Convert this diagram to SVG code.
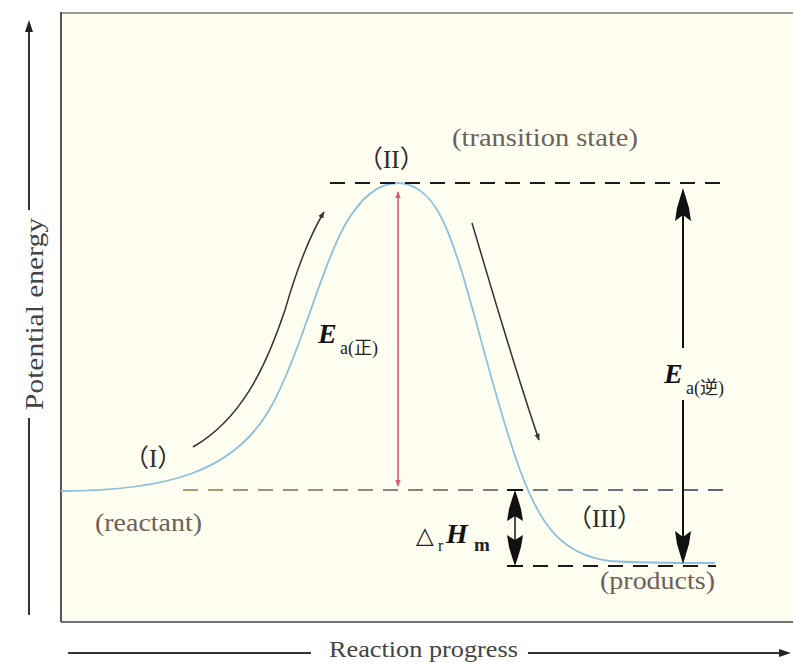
<svg xmlns="http://www.w3.org/2000/svg" width="793" height="665" viewBox="0 0 793 665">
<defs>
<style>
.lbl{font-family:"Liberation Serif","Noto Sans CJK SC",serif;fill:#6b6258;font-size:25px}
.num{font-family:"Liberation Serif","Noto Sans CJK SC",serif;fill:#2a2a2a;font-size:25px}
.ax{font-family:"Liberation Serif",serif;fill:#444;font-size:25px}
.E{font-family:"Liberation Serif",serif;font-style:italic;font-weight:bold;fill:#111;font-size:28px}
.sub{font-family:"Liberation Serif","Noto Sans CJK SC",serif;fill:#222;font-size:18px}
.dash{stroke:#1a1a1a;stroke-width:2;stroke-dasharray:15 10;fill:none}
.thin{stroke:#333;stroke-width:1.5;fill:none}
.heavy{fill:#111}
</style>
<marker id="ah" viewBox="0 0 10 10" refX="9" refY="5" markerWidth="7" markerHeight="7" orient="auto" markerUnits="userSpaceOnUse">
<path d="M0,1 L10,5 L0,9 Z" fill="#333"/>
</marker>
<marker id="ahr" viewBox="0 0 10 10" refX="9" refY="5" markerWidth="7" markerHeight="7" orient="auto-start-reverse" markerUnits="userSpaceOnUse">
<path d="M0,1 L10,5 L0,9 Z" fill="#e0557a"/>
</marker>
<linearGradient id="mid" gradientUnits="userSpaceOnUse" x1="183" y1="0" x2="728" y2="0">
<stop offset="0" stop-color="#b09a70"/>
<stop offset="1" stop-color="#5e6488"/>
</linearGradient>
</defs>
<rect x="0" y="0" width="793" height="665" fill="#ffffff"/>
<g id="frame">
<rect x="61" y="13" width="740" height="609" fill="#fffef1"/>
<line x1="61" y1="13" x2="793" y2="13" stroke="#9a9a98" stroke-width="2"/>
<line x1="61" y1="12" x2="61" y2="622" stroke="#555" stroke-width="2"/>
<line x1="61" y1="622" x2="793" y2="622" stroke="#6a7078" stroke-width="2"/>
</g>
<g id="y-axis">
<line x1="29" y1="30" x2="29" y2="210" stroke="#333" stroke-width="2"/>
<path d="M29,20 L33,32 L25,32 Z" fill="#222"/>
<line x1="29" y1="418" x2="29" y2="615" stroke="#333" stroke-width="2"/>
<text class="ax" transform="translate(43,314) rotate(-90)" text-anchor="middle" textLength="192" lengthAdjust="spacingAndGlyphs">Potential energy</text>
</g>
<g id="x-axis">
<line x1="68" y1="653" x2="311" y2="653" stroke="#333" stroke-width="2"/>
<line x1="528" y1="653" x2="782" y2="653" stroke="#333" stroke-width="2"/>
<path d="M791,653 L779,649 L779,657 Z" fill="#222"/>
<text class="ax" x="329" y="657" style="font-size:23px" textLength="189" lengthAdjust="spacingAndGlyphs">Reaction progress</text>
</g>
<g id="curve">
<path d="M61,491 C170,491 233,470 268,412 C298,362 320,270 345,225 C365,190 385,183 398,183 C412,183 428,192 440,215 C465,260 490,390 520,470 C540,525 562,555 610,561 C640,563 690,563 715,563" fill="none" stroke="#8cc0dc" stroke-width="1.8"/>
</g>
<g id="connectors">
<line class="dash" x1="330" y1="183" x2="730" y2="183"/>
<line x1="183" y1="490" x2="730" y2="490" stroke="url(#mid)" stroke-width="2" stroke-dasharray="15 10"/>
<line class="dash" x1="508" y1="566" x2="716" y2="566"/>
<path class="thin" d="M193,447 C240,420 265,370 285,310 C298,265 310,235 324,212" marker-end="url(#ah)"/>
<path class="thin" d="M472,223 C495,300 515,370 539,440" marker-end="url(#ah)"/>
<line x1="398" y1="192" x2="398" y2="486" stroke="#e0557a" stroke-width="1.6" marker-start="url(#ahr)" marker-end="url(#ahr)"/>
<line x1="683" y1="212" x2="683" y2="348" stroke="#111" stroke-width="2"/>
<line x1="683" y1="400" x2="683" y2="540" stroke="#111" stroke-width="2"/>
<path class="heavy" d="M683,188 L686,198 L689,208 L691,221 L683,215 L675,221 L677,208 L680,198 Z"/>
<path class="heavy" d="M683,564 L686,554 L689,544 L691,531 L683,537 L675,531 L677,544 L680,554 Z"/>
<line x1="507" y1="490" x2="523" y2="490" stroke="#111" stroke-width="2"/>
<line x1="507" y1="566" x2="523" y2="566" stroke="#111" stroke-width="2"/>
<line x1="515" y1="515" x2="515" y2="540" stroke="#111" stroke-width="1.5"/>
<path class="heavy" d="M515,490 L518,499 L521,509 L523,521 L515,516 L507,521 L509,509 L512,499 Z"/>
<path class="heavy" d="M515,566 L518,557 L521,547 L523,535 L515,540 L507,535 L509,547 L512,557 Z"/>
</g>
<g id="state-I">
<text class="num" x="124" y="467">（I）</text>
<text class="lbl" x="95" y="531" textLength="107" lengthAdjust="spacingAndGlyphs">(reactant)</text>
</g>
<g id="state-II">
<text class="num" x="358" y="168">（II）</text>
<text class="lbl" x="452" y="146" textLength="186" lengthAdjust="spacingAndGlyphs">(transition state)</text>
</g>
<g id="state-III">
<text class="num" x="567" y="527">（III）</text>
<text class="lbl" x="600" y="589" textLength="115" lengthAdjust="spacingAndGlyphs">(products)</text>
</g>
<g id="label-Ea-forward">
<text class="E" x="318" y="343">E</text>
<text class="sub" x="340" y="354">a(正)</text>
</g>
<g id="label-Ea-reverse">
<text class="E" x="664" y="383">E</text>
<text class="sub" x="686" y="394">a(逆)</text>
</g>
<g id="label-dH">
<text x="416" y="543" style="font-family:'DejaVu Sans',sans-serif;font-size:23px;fill:#222">△</text>
<text x="438" y="551" style="font-family:'Liberation Serif',serif;font-size:16px;fill:#222">r</text>
<text class="E" x="446" y="543">H</text>
<text x="474" y="551" style="font-family:'Liberation Serif',serif;font-size:19px;fill:#222;font-weight:bold">m</text>
</g>
</svg>
